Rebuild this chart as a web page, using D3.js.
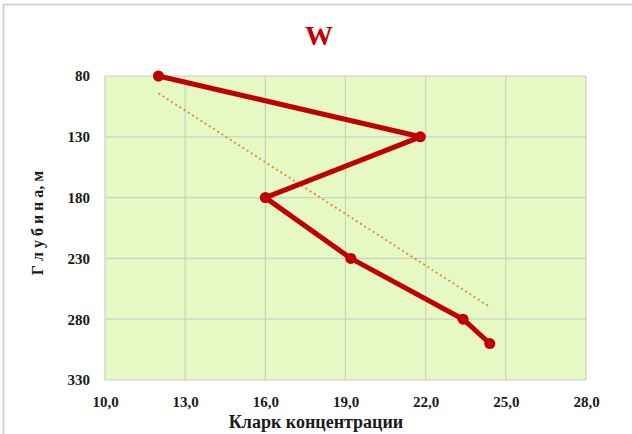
<!DOCTYPE html>
<html><head><meta charset="utf-8">
<script src="https://cdn.jsdelivr.net/npm/d3@7"></script>
<style>body{margin:0;background:#fff;} svg{display:block;}</style>
</head><body>
<svg id="c" width="632" height="434"></svg>
<script>
const concentration = [12.0, 21.8, 16.0, 19.2, 23.4, 24.4];
const depth = [80, 130, 180, 230, 280, 300];
const xTicks = [10, 13, 16, 19, 22, 25, 28];
const yTicks = [80, 130, 180, 230, 280, 330];
const title = "W";
const xTitle = "Кларк концентрации";
const yTitle = "Г л у б и н а, м";

const svg = d3.select("#c");
const L = 105, R = 586, T = 76, B = 380;
const x = d3.scaleLinear().domain([10, 28]).range([L, R]);
const y = d3.scaleLinear().domain([80, 330]).range([T, B]);

svg.append("rect").attr("x", 3.5).attr("y", 4.5).attr("width", 640).attr("height", 440)
  .attr("fill", "#fff").attr("stroke", "#d4d4d4").attr("stroke-width", 2);

svg.append("rect").attr("x", L).attr("y", T).attr("width", R - L).attr("height", B - T)
  .attr("fill", "#e6f8c4");

const grid = svg.append("g");
grid.selectAll("line.v").data(xTicks).join("line")
  .attr("x1", d => x(d)).attr("x2", d => x(d)).attr("y1", T).attr("y2", B)
  .attr("stroke", "#c9d0c4").attr("stroke-width", 1.2);
grid.selectAll("line.h").data(yTicks).join("line")
  .attr("x1", L).attr("x2", R).attr("y1", d => y(d)).attr("y2", d => y(d))
  .attr("stroke", "#c9d0c4").attr("stroke-width", 1.2);

const font = "Liberation Serif, DejaVu Serif, serif";
const fmt = d => d.toFixed(1).replace(".", ",");

const xAxis = svg.append("g").attr("transform", `translate(0,${B})`)
  .call(d3.axisBottom(x).tickValues(xTicks).tickFormat(fmt).tickSize(0).tickPadding(16));
const yAxis = svg.append("g").attr("transform", `translate(${L},0)`)
  .call(d3.axisLeft(y).tickValues(yTicks).tickFormat(d => d).tickSize(0).tickPadding(15));
[xAxis, yAxis].forEach(a => {
  a.select(".domain").remove();
  a.selectAll("text").style("font-family", font).style("font-weight", "bold")
    .style("font-size", "15px").attr("fill", "#1a1a1a");
});

const mx = d3.mean(concentration), my = d3.mean(depth);
const sxy = d3.sum(concentration, (c, i) => (c - mx) * (depth[i] - my));
const sxx = d3.sum(concentration, c => (c - mx) ** 2);
const slope = sxy / sxx, icpt = my - slope * mx;
const [cmin, cmax] = d3.extent(concentration);
svg.append("line")
  .attr("x1", x(cmin)).attr("y1", y(icpt + slope * cmin))
  .attr("x2", x(cmax)).attr("y2", y(icpt + slope * cmax))
  .attr("stroke", "#e08a2c").attr("stroke-width", 1.8).attr("stroke-dasharray", "2,3");

const pts = concentration.map((c, i) => [c, depth[i]]);
svg.append("path").datum(pts)
  .attr("d", d3.line().x(d => x(d[0])).y(d => y(d[1])))
  .attr("fill", "none").attr("stroke", "#c00000").attr("stroke-width", 5)
  .attr("stroke-linejoin", "round");
svg.selectAll("circle.p").data(pts).join("circle")
  .attr("cx", d => x(d[0])).attr("cy", d => y(d[1])).attr("r", 5.5)
  .attr("fill", "#c00000");

svg.append("text").attr("x", 319).attr("y", 45).attr("text-anchor", "middle")
  .style("font-family", font).style("font-weight", "bold").style("font-size", "28px")
  .attr("fill", "#c00000").text(title);

svg.append("text").attr("x", 316).attr("y", 428).attr("text-anchor", "middle")
  .style("font-family", font).style("font-weight", "bold").style("font-size", "18px")
  .attr("fill", "#1a1a1a").text(xTitle);

svg.append("text").attr("transform", "translate(43,223) rotate(-90)").attr("text-anchor", "middle")
  .style("font-family", font).style("font-weight", "bold").style("font-size", "16px")
  .attr("fill", "#1a1a1a").text(yTitle);
</script>
</body></html>
